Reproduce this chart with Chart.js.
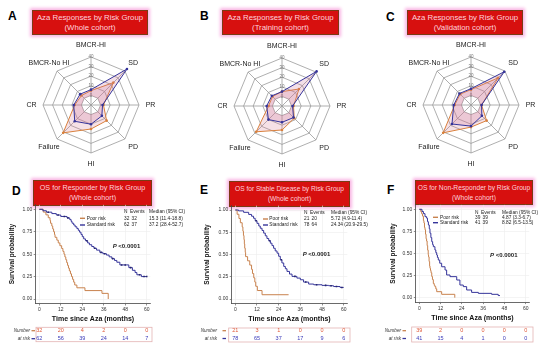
<!DOCTYPE html>
<html>
<head>
<meta charset="utf-8">
<script src="https://cdn.jsdelivr.net/npm/chart.js@4"></script>
<style>
html, body { margin: 0; padding: 0; width: 550px; height: 348px; overflow: hidden; background: #fff; font-family: "Liberation Sans", Arial, sans-serif; }
canvas { position: absolute; }
.tb { position: absolute; box-sizing: border-box; background: #d7100f; border: 1.5px solid #7a3b14; box-shadow: 0 0 3px 2px #f9b6e4; color: #ffd0dc; text-align: center; line-height: 10px; padding-top: 2px; }
.lt { position: absolute; font-weight: bold; font-size: 12px; color: #000; line-height: 12px; }
</style>
</head>
<body>

<div class="lt" style="left:8px;top:10px">A</div>
<div class="lt" style="left:200px;top:10px">B</div>
<div class="lt" style="left:386px;top:11px">C</div>
<div class="lt" style="left:12px;top:185px">D</div>
<div class="lt" style="left:200px;top:184px">E</div>
<div class="lt" style="left:387px;top:184px">F</div>

<div class="tb" style="left:32px;top:10px;width:116px;height:25px;font-size:7.8px">Aza Responses by Risk Group<br>(Whole cohort)</div>
<div class="tb" style="left:222px;top:10px;width:117px;height:25px;font-size:7.8px">Aza Responses by Risk Group<br>(Training cohort)</div>
<div class="tb" style="left:407px;top:10px;width:116px;height:25px;font-size:7.8px">Aza Responses by Risk Group<br>(Validation cohort)</div>
<div class="tb" style="left:33px;top:180px;width:119px;height:26px;font-size:7.2px">OS for Responder by Risk Group<br>(Whole cohort)</div>
<div class="tb" style="left:229px;top:181px;width:121px;height:26px;font-size:6.6px">OS for Stable Disease by Risk Group<br>(Whole cohort)</div>
<div class="tb" style="left:415px;top:180px;width:118px;height:25px;font-size:6.7px">OS for Non-Responder by Risk Group<br>(Whole cohort)</div>

<canvas id="radarA" width="182" height="130" style="left:0px;top:40px"></canvas>
<canvas id="radarB" width="182" height="130" style="left:191px;top:41px"></canvas>
<canvas id="radarC" width="182" height="130" style="left:380px;top:40px"></canvas>
<canvas id="kmD" width="192" height="148" style="left:0px;top:200px"></canvas>
<canvas id="kmE" width="190" height="148" style="left:182px;top:200px"></canvas>
<canvas id="kmF" width="185" height="148" style="left:365px;top:200px"></canvas>

<script>
const FONT = '"Liberation Sans", Arial, sans-serif';
const BLUE = '#35349a';
const ORANGE = '#d9803c';
const KM_POOR = '#c8824e';
const RISK_COL = ['#e05a3a', '#3a3ab8'];

// radar data (% of patients)
const radarLabels = ['BMCR-HI', 'SD', 'PR', 'PD', 'HI', 'Failure', 'CR', 'BMCR-No HI'];
const radarTicks = [-10, 0, 10, 20, 30, 40];
const poorA = [5, 23, 3, 13, 15, 31, 7, 4];
const stdA = [6, 43, 2, 6, 10, 14, 8, 6];
const poorB = [5, 15, 2, 8, 15, 28, 4, 4];
const stdB = [5, 41, 1, 7, 7, 10, 6, 5];
const poorC = [6, 30, 1, 13, 13, 31, 7, 6];
const stdC = [7, 39, 1, 6, 12, 18, 8, 7];

// survival curves
const xTicks = [0, 12, 24, 36, 48, 60];
const yTicks = [0, 0.25, 0.5, 0.75, 1];
const groupNames = ['Poor risk', 'Standard risk'];

const poorD_t = [0, 2.2, 3.7, 5.0, 6.0, 6.3, 7.0, 7.5, 8.0, 8.5, 8.8, 9.8, 10.6, 11.5, 12.5, 13.2, 13.8, 14.3, 14.8, 15.3, 15.8, 16.3, 16.8, 17.4, 18.0, 18.6, 19.2, 19.8, 21.0, 25.5, 35.0, 38.5];
const poorD_s = [1, .969, .938, .906, .875, .844, .813, .781, .75, .719, .688, .656, .625, .594, .563, .531, .5, .469, .438, .406, .375, .344, .313, .281, .25, .219, .188, .156, .125, .094, .063, 0];
const stdD_t = [0, 2, 4, 7, 9.5, 12, 15.5, 17, 17.8, 18.3, 19.2, 20, 21, 21.8, 22.5, 23.3, 24, 24.8, 25.8, 27, 28, 29.3, 30.5, 32, 33.8, 35.5, 37.5, 39, 40.5, 42, 43.3, 45, 50, 52, 53.5, 54.5, 57, 60];
const stdD_s = [1, .984, .968, .952, .936, .92, .904, .885, .865, .845, .825, .805, .785, .765, .745, .72, .695, .67, .65, .625, .605, .585, .565, .545, .52, .505, .49, .47, .45, .43, .41, .38, .35, .32, .295, .27, .25, .25];
const censD = [5, 10.5, 14, 16, 26.5, 31, 34.5, 36.5, 41, 46, 48, 51, 56, 58.5, 60];

const poorE_t = [0, 1.0, 2.0, 2.8, 3.8, 4.2, 4.5, 4.8, 5.0, 5.2, 5.5, 5.7, 6.8, 8.0, 9.0, 9.5, 10.2, 10.8, 11.3, 12.2, 14.8, 29.5];
const poorE_s = [1, .952, .905, .857, .81, .762, .714, .667, .619, .571, .524, .476, .429, .381, .333, .286, .238, .19, .143, .095, .048, .048];
const stdE_t = [0, 1.8, 4.6, 7.4, 9, 10.1, 11, 12, 13, 13.8, 14.8, 15.7, 16.6, 17.5, 18.5, 19.4, 20.3, 21.2, 22.1, 23.1, 24, 24.9, 25.8, 26.8, 27.7, 28.6, 30, 31.4, 34.1, 36, 37.8, 40.6, 43.4, 48, 51.7, 54.4, 58, 60];
const stdE_s = [1, .99, .974, .95, .93, .907, .88, .85, .82, .795, .77, .74, .71, .68, .655, .627, .6, .57, .54, .515, .48, .44, .405, .366, .34, .31, .28, .254, .235, .216, .19, .168, .16, .153, .149, .14, .13, .13];
const censE = [11.5, 19, 25.5, 33, 39, 45, 50, 53, 56, 59];

const poorF_t = [0, 0.8, 1.3, 1.8, 2.3, 2.6, 2.9, 3.2, 3.5, 3.8, 4.1, 4.4, 4.7, 5.0, 5.2, 5.5, 5.8, 6.0, 6.3, 6.6, 7.0, 7.4, 7.9, 8.4, 8.8, 9.3, 9.8, 12.6, 20.0];
const poorF_s = [1, .974, .949, .923, .872, .846, .795, .769, .718, .667, .641, .59, .538, .487, .462, .41, .359, .333, .308, .282, .24, .205, .16, .14, .125, .1, .068, .038, 0];
const stdF_t = [0, 1.5, 2.3, 3.2, 4.1, 4.6, 5.1, 5.6, 6.0, 6.5, 7.0, 7.5, 7.9, 8.8, 9.3, 9.8, 10.2, 10.7, 11.5, 12.6, 14.5, 15.4, 17.3, 21.1, 22.9, 24.8, 26.7, 29.5, 33.3, 40.8, 44.5, 45.5];
const stdF_s = [1, .976, .951, .917, .9, .86, .823, .78, .73, .68, .634, .6, .577, .54, .51, .483, .455, .426, .39, .35, .313, .257, .238, .2, .143, .125, .087, .06, .049, .038, .024, .024];
const censF = [];

const nD = [32, 62], eventsD = [32, 37], medianD = ['15.3 (11.4-18.8)', '37.2 (28.4-52.7)'];
const nE = [21, 78], eventsE = [20, 64], medianE = ['5.72 (4.9-11.4)', '24.34 (20.9-29.5)'];
const nF = [39, 41], eventsF = [39, 39], medianF = ['4.87 (3.3-6.7)', '8.82 (6.5-13.5)'];
const riskPoorD = [32, 20, 4, 2, 0, 0], riskStdD = [62, 56, 39, 24, 14, 7];
const riskPoorE = [21, 3, 1, 0, 0, 0], riskStdE = [78, 65, 37, 17, 9, 6];
const riskPoorF = [39, 2, 0, 0, 0, 0], riskStdF = [41, 15, 4, 1, 0, 0];

// axis names centred on each spoke, like the original figure
const radarLabelPlugin = {
  id: 'radarLabels',
  afterDraw(chart) {
    const r = chart.scales.r, c = chart.ctx;
    c.save();
    c.font = '7px ' + FONT;
    c.fillStyle = '#222';
    c.textAlign = 'center';
    c.textBaseline = 'middle';
    radarLabels.forEach((lab, i) => {
      const p = r.getPointPosition(i, r.drawingArea + 11.5);
      c.fillText(lab, p.x, p.y);
    });
    c.restore();
  }
};

function radar(id, poor, std) {
  new Chart(document.getElementById(id), {
    type: 'radar',
    data: {
      labels: radarLabels,
      datasets: [
        { data: std, borderColor: BLUE, backgroundColor: 'rgba(200,110,150,0.22)', borderWidth: 1, pointRadius: 1.3, pointBackgroundColor: BLUE, pointBorderWidth: 0, fill: true },
        { data: poor, borderColor: ORANGE, backgroundColor: 'rgba(215,120,140,0.22)', borderWidth: 1, pointRadius: 1.3, pointBackgroundColor: ORANGE, pointBorderWidth: 0, fill: true }
      ]
    },
    options: {
      responsive: false, animation: false, devicePixelRatio: 1,
      layout: { padding: { top: 14.5, bottom: 14.5 } },
      plugins: { legend: { display: false }, tooltip: { enabled: false } },
      scales: {
        r: {
          min: -10, max: 40,
          afterBuildTicks: s => { s.ticks = radarTicks.map(v => ({ value: v })); },
          ticks: { showLabelBackdrop: false, backdropPadding: 0, color: '#777', font: { size: 4.5, family: FONT }, callback: v => v < 0 ? '' : v },
          grid: { color: '#9a9a9a', lineWidth: 0.8 },
          angleLines: { color: '#9a9a9a', lineWidth: 0.8 },
          pointLabels: { display: false }
        }
      }
    },
    plugins: [radarLabelPlugin]
  });
}

radar('radarA', poorA, stdA);
radar('radarB', poorB, stdB);
radar('radarC', poorC, stdC);

function stepAt(t, s, x) {
  let y = s[0];
  for (let i = 0; i < t.length; i++) if (t[i] <= x) y = s[i];
  return y;
}

function kmText(g, L) {
  return {
    id: 'kmText',
    afterDraw(chart) {
      const c = chart.ctx, xs = chart.scales.x;
      const curveCol = [KM_POOR, BLUE];
      c.save();
      c.textBaseline = 'middle';
      c.textAlign = 'left';
      c.fillStyle = '#222';
      c.font = '4.8px ' + FONT;
      c.fillText('N', L.nX, L.hY);
      c.fillText('Events', L.evX, L.hY);
      c.fillText('Median (95% CI)', L.medX, L.hY);
      [L.r1Y, L.r2Y].forEach((y, i) => {
        c.strokeStyle = curveCol[i];
        c.lineWidth = 1.4;
        c.beginPath(); c.moveTo(L.dashX, y); c.lineTo(L.dashX + 5, y); c.stroke();
        c.fillStyle = '#222';
        c.fillText(groupNames[i], L.labX, y);
        c.fillText(String(g.n[i]), L.nX, y);
        c.fillText(String(g.events[i]), L.evX + 1.5, y);
        c.fillText(g.median[i], L.medX, y);
      });
      // p value
      c.font = 'italic bold 6px ' + FONT;
      c.fillText('P', L.pX, L.pY);
      const w = c.measureText('P ').width;
      c.font = 'bold 6px ' + FONT;
      c.fillText('<0.0001', L.pX + w, L.pY);
      // number at risk
      const b = L.box;
      c.strokeStyle = '#e3b3b3';
      c.lineWidth = 0.8;
      c.strokeRect(b[0], b[1], b[2] - b[0], b[3] - b[1]);
      c.font = 'italic 4.6px ' + FONT;
      c.fillStyle = '#333';
      c.textAlign = 'right';
      c.fillText('Number', L.numX, L.rr1);
      c.fillText('at risk', L.numX, L.rr2);
      [L.rr1, L.rr2].forEach((y, i) => {
        c.strokeStyle = curveCol[i];
        c.lineWidth = 1.3;
        c.beginPath(); c.moveTo(L.rdX, y); c.lineTo(L.rdX + 3.5, y); c.stroke();
        c.font = '5.5px ' + FONT;
        c.fillStyle = RISK_COL[i];
        c.textAlign = 'center';
        (i ? g.riskStd : g.riskPoor).forEach((v, j) => c.fillText(String(v), xs.getPixelForValue(xTicks[j]), y));
      });
      c.restore();
    }
  };
}

function km(id, g, L) {
  const pts = (t, s) => t.map((v, i) => ({ x: v, y: s[i] }));
  new Chart(document.getElementById(id), {
    type: 'line',
    data: {
      datasets: [
        { data: g.cens.map(x => ({ x: x, y: stepAt(g.stdT, g.stdS, x) })), showLine: false, pointStyle: 'rect', pointRadius: 1.1, pointBackgroundColor: '#26266e', pointBorderWidth: 0 },
        { data: pts(g.stdT, g.stdS), stepped: true, borderColor: BLUE, borderWidth: 1, pointRadius: 0, fill: false },
        { data: pts(g.poorT, g.poorS), stepped: true, borderColor: KM_POOR, borderWidth: 1, pointRadius: 0, fill: false }
      ]
    },
    options: {
      responsive: false, animation: false, devicePixelRatio: 1,
      layout: { padding: { left: L.padL, right: L.padR, top: L.padT, bottom: L.padB } },
      plugins: { legend: { display: false }, tooltip: { enabled: false } },
      scales: {
        x: {
          type: 'linear', min: -2, max: 62,
          afterBuildTicks: s => { s.ticks = xTicks.map(v => ({ value: v })); },
          afterFit: s => { s.height = 22; },
          ticks: { color: '#333', font: { size: 5, family: FONT }, padding: 1.5, maxRotation: 0, autoSkip: false },
          grid: { color: '#ececec', lineWidth: 0.6, tickColor: '#444', tickLength: 2 },
          border: { color: '#444', width: 0.8 },
          title: { display: true, text: 'Time since Aza (months)', color: '#111', font: { size: 7, weight: 'bold', family: FONT }, padding: { top: 0, bottom: 2 } }
        },
        y: {
          min: -0.05, max: 1.05,
          afterBuildTicks: s => { s.ticks = yTicks.map(v => ({ value: v })); },
          afterFit: s => { s.width = L.yW; },
          ticks: { color: '#333', font: { size: 5, family: FONT }, padding: 1.5, callback: v => Number(v).toFixed(2) },
          grid: { color: '#ececec', lineWidth: 0.6, tickColor: '#444', tickLength: 2 },
          border: { color: '#444', width: 0.8 },
          title: { display: true, text: 'Survival probability', color: '#111', font: { size: 6.5, weight: 'bold', family: FONT }, padding: { top: 0, bottom: 0 } }
        }
      }
    },
    plugins: [kmText(g, L)]
  });
}

km('kmD',
  { poorT: poorD_t, poorS: poorD_s, stdT: stdD_t, stdS: stdD_s, cens: censD, n: nD, events: eventsD, median: medianD, riskPoor: riskPoorD, riskStd: riskStdD },
  { padL: 8, yW: 27.7, padR: 41.7, padT: 4.8, padB: 22.5,
    hY: 12, r1Y: 18.3, r2Y: 25, dashX: 80, labX: 86.7, nX: 124, evX: 130, medX: 149, pX: 112.7, pY: 46.7,
    numX: 30, rdX: 31.5, rr1: 130.7, rr2: 138.7, box: [36, 127.3, 152, 141.7] });

km('kmE',
  { poorT: poorE_t, poorS: poorE_s, stdT: stdE_t, stdS: stdE_s, cens: censE, n: nE, events: eventsE, median: medianE, riskPoor: riskPoorE, riskStd: riskStdE },
  { padL: 21, yW: 28.7, padR: 24.7, padT: 5.55, padB: 22.55,
    hY: 13, r1Y: 19, r2Y: 25, dashX: 81, labX: 87.3, nX: 122, evX: 128, medX: 149, pX: 120.7, pY: 54.3,
    numX: 35, rdX: 40.5, rr1: 130.7, rr2: 138.5, box: [46.7, 128, 168, 142] });

km('kmF',
  { poorT: poorF_t, poorS: poorF_s, stdT: stdF_t, stdS: stdF_s, cens: censF, n: nF, events: eventsF, median: medianF, riskPoor: riskPoorF, riskStd: riskStdF },
  { padL: 24, yW: 26.8, padR: 20.8, padT: 4.9, padB: 23.9,
    hY: 12.3, r1Y: 17.3, r2Y: 22.7, dashX: 68, labX: 75, nX: 110, evX: 116, medX: 137, pX: 125, pY: 55,
    numX: 36, rdX: 37.5, rr1: 130.7, rr2: 138.5, box: [46.7, 127, 168, 142] });
</script>
</body>
</html>
